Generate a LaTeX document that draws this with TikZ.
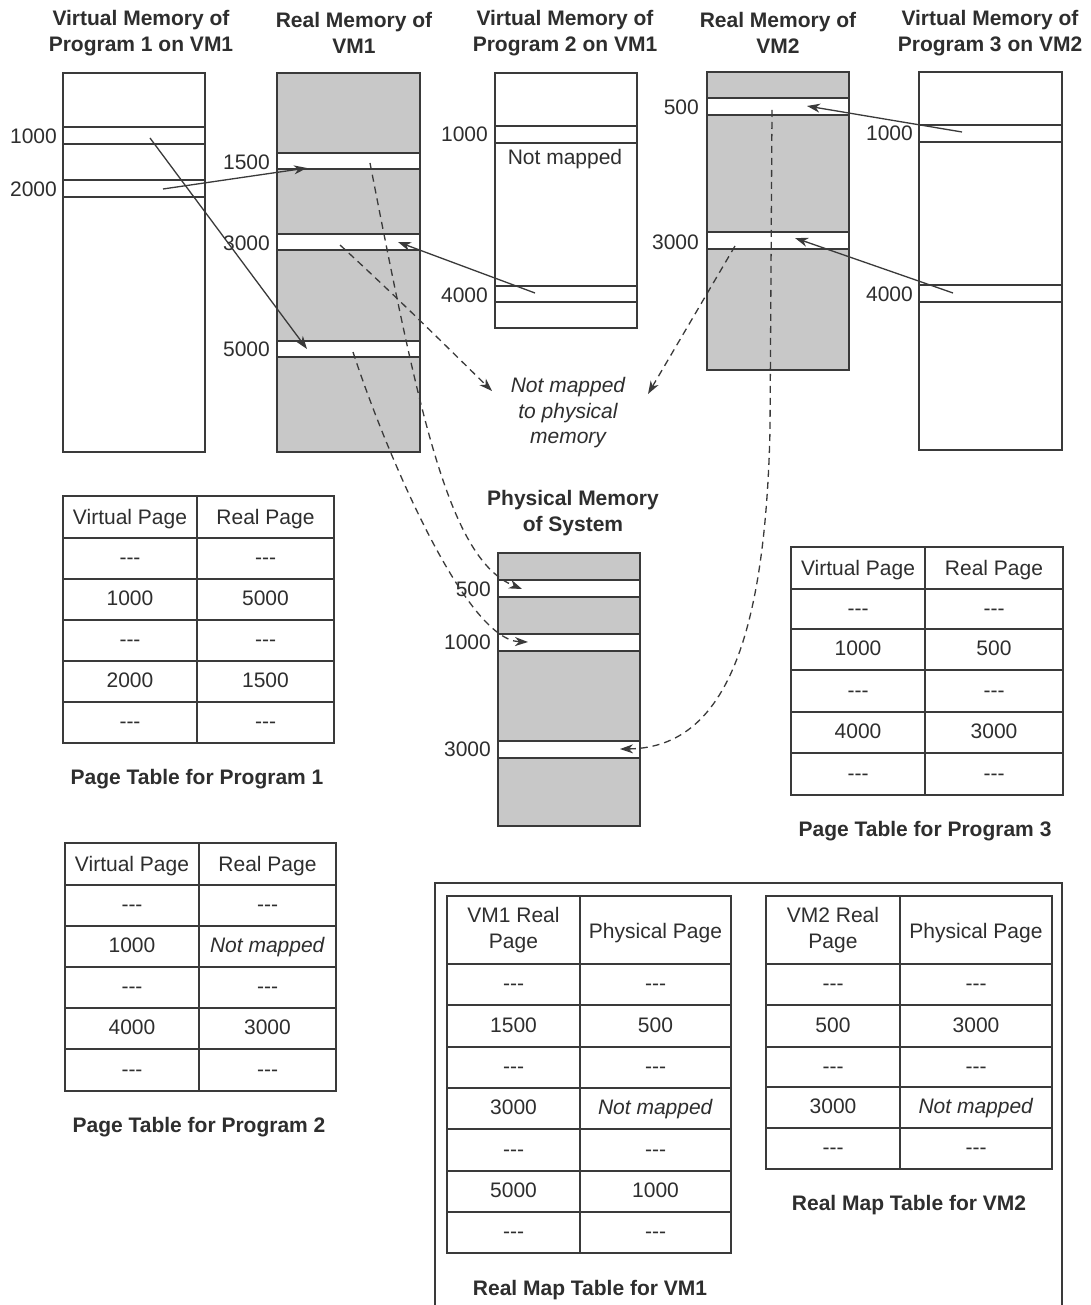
\documentclass[tikz,border=0pt]{standalone}
\usepackage{fontspec}
\setmainfont{Liberation Sans}
\usetikzlibrary{arrows.meta}
\definecolor{linec}{HTML}{3A3A3A}
\definecolor{txtc}{HTML}{2E2E2E}
\definecolor{memg}{HTML}{C8C8C8}
\newcommand\fsz{\fontsize{21}{25.5}\selectfont}
\newcommand\dsh{-\kern0pt-\kern0pt-}
\begin{document}
\begin{tikzpicture}[x=1pt,y=-1pt,
 box/.style={draw=linec,line width=1.6pt},
 gbox/.style={box,fill=memg},
 wslot/.style={box,fill=white},
 rule/.style={draw=linec,line width=1.6pt},
 lbl/.style={font=\fsz,text=txtc,inner sep=0pt,text height=15pt,text depth=0pt},
 num/.style={lbl,anchor=east},
 ttl/.style={font=\fsz\bfseries,text=txtc,align=center,inner sep=0pt,yshift=-2pt},
 itl/.style={font=\fsz\itshape,text=txtc,align=center,inner sep=0pt,yshift=-2pt},
 hdr/.style={font=\fsz,text=txtc,align=center,inner sep=0pt},
 arr/.style={draw=linec,line width=1.3pt,-{Stealth[length=13pt,width=9pt,inset=4pt]}},
 darr/.style={arr,dash pattern=on 7pt off 5pt},
]
\useasboundingbox (0,0) rectangle (1091,1305);
\fill[white] (0,0) rectangle (1091,1305);

% ---------- titles ----------
\node[ttl] (tP1) at (141,31) {Virtual Memory of\\Program 1 on VM1};
\node[ttl] (tR1) at (354,31) {Real Memory of\\VM1};
\node[ttl] (tP2) at (565,31) {Virtual Memory of\\Program 2 on VM1};
\node[ttl] (tR2) at (778,31) {Real Memory of\\VM2};
\node[ttl] (tP3) at (990,31) {Virtual Memory of\\Program 3 on VM2};
\node[ttl] (tPh) at (573,511) {Physical Memory\\of System};

% ---------- memory columns ----------
% Program 1
\draw[box] (63,73) rectangle (205,452);
\draw[rule] (63,127) -- (205,127) (63,144) -- (205,144)
            (63,180) -- (205,180) (63,197) -- (205,197);
\node[num] (l11) at (57,136) {1000};
\node[num] (l12) at (57,189) {2000};

% Real memory VM1
\draw[gbox] (277,73) rectangle (420,452);
\draw[wslot] (277,153) rectangle (420,169);
\draw[wslot] (277,234) rectangle (420,250);
\draw[wslot] (277,341) rectangle (420,357);
\node[num] (l21) at (270,162) {1500};
\node[num] (l22) at (270,243) {3000};
\node[num] (l23) at (270,349) {5000};

% Program 2
\draw[box] (495,73) rectangle (637,328);
\draw[rule] (495,126) -- (637,126) (495,143) -- (637,143)
            (495,286) -- (637,286) (495,302) -- (637,302);
\node[num] (l31) at (488,134) {1000};
\node[num] (l32) at (488,295) {4000};
\node[lbl] (nm2) at (565,157) {Not mapped};

% Real memory VM2
\draw[gbox] (707,72) rectangle (849,370);
\draw[wslot] (707,98) rectangle (849,115);
\draw[wslot] (707,232) rectangle (849,249);
\node[num] (l41) at (699,107) {500};
\node[num] (l42) at (699,242) {3000};

% Program 3
\draw[box] (919,72) rectangle (1062,450);
\draw[rule] (919,125) -- (1062,125) (919,142) -- (1062,142)
            (919,285) -- (1062,285) (919,302) -- (1062,302);
\node[num] (l51) at (913,133) {1000};
\node[num] (l52) at (913,294) {4000};

% Physical memory
\draw[gbox] (498,553) rectangle (640,826);
\draw[wslot] (498,580) rectangle (640,597);
\draw[wslot] (498,634) rectangle (640,651);
\draw[wslot] (498,741) rectangle (640,758);
\node[num] (l61) at (491,589) {500};
\node[num] (l62) at (491,642) {1000};
\node[num] (l63) at (491,749) {3000};

\node[itl] (nmp) at (568,411) {Not mapped\\to physical\\memory};

% ---------- solid mapping arrows ----------
\coordinate (a1s) at (150,138); \coordinate (a1e) at (307,349);
\coordinate (a2s) at (163,189); \coordinate (a2e) at (307,168);
\coordinate (a3s) at (535,293); \coordinate (a3e) at (398,242);
\coordinate (a4s) at (962,132); \coordinate (a4e) at (807,106);
\coordinate (a5s) at (953,293); \coordinate (a5e) at (795,238);
\draw[arr] (a1s) -- (a1e);
\draw[arr] (a2s) -- (a2e);
\draw[arr] (a3s) -- (a3e);
\draw[arr] (a4s) -- (a4e);
\draw[arr] (a5s) -- (a5e);

% ---------- dashed arrows ----------
\coordinate (d1s) at (370,163); \coordinate (d1e) at (522,589);
\coordinate (d2s) at (353,352); \coordinate (d2e) at (528,642);
\coordinate (d3s) at (340,245); \coordinate (d3e) at (492,391);
\coordinate (d4s) at (735,246); \coordinate (d4e) at (648,394);
\coordinate (d5s) at (772,110); \coordinate (d5m) at (770,430); \coordinate (d5e) at (620,749);
\draw[darr] (d1s) .. controls (420,420) and (450,560) .. (d1e);
\draw[darr] (d2s) .. controls (385,450) and (465,640) .. (d2e);
\draw[darr] (d3s) .. controls (400,300) and (450,350) .. (d3e);
\draw[darr] (d4s) -- (d4e);
\draw[darr] (d5s) -- (d5m) .. controls (765,650) and (720,748) .. (d5e);

% ---------- Page table for program 1 ----------
\draw[box] (63,496) rectangle (334,743);
\draw[rule] (197,496) -- (197,743);
\foreach \y in {538,579,620,661,702} \draw[rule] (63,\y) -- (334,\y);
\node[lbl] (p1h1) at (130,517) {Virtual Page};
\node[lbl] (p1h2) at (265.5,517) {Real Page};
\foreach \y/\a/\b [count=\i] in {558.5/\dsh/\dsh,599.5/1000/5000,640.5/\dsh/\dsh,681.5/2000/1500,722.5/\dsh/\dsh}{
  \node[lbl] (p1a\i) at (130,\y-1.5) {\a};
  \node[lbl] (p1b\i) at (265.5,\y-1.5) {\b};
}
\node[ttl] (p1c) at (197,777) {Page Table for Program 1};

% ---------- Page table for program 2 ----------
\draw[box] (65,843) rectangle (336,1091);
\draw[rule] (199,843) -- (199,1091);
\foreach \y in {885,926,967,1008,1049} \draw[rule] (65,\y) -- (336,\y);
\node[lbl] (p2h1) at (132,864) {Virtual Page};
\node[lbl] (p2h2) at (267.5,864) {Real Page};
\foreach \y/\a/\b [count=\i] in {905.5/\dsh/\dsh,946.5/1000/\textit{Not mapped},987.5/\dsh/\dsh,1028.5/4000/3000,1070/\dsh/\dsh}{
  \node[lbl] (p2a\i) at (132,\y-1.5) {\a};
  \node[lbl] (p2b\i) at (267.5,\y-1.5) {\b};
}
\node[ttl] (p2c) at (199,1125) {Page Table for Program 2};

% ---------- Page table for program 3 ----------
\draw[box] (791,547) rectangle (1063,795);
\draw[rule] (925,547) -- (925,795);
\foreach \y in {589,629,670,712,753} \draw[rule] (791,\y) -- (1063,\y);
\node[lbl] (p3h1) at (858,568) {Virtual Page};
\node[lbl] (p3h2) at (994,568) {Real Page};
\foreach \y/\a/\b [count=\i] in {609/\dsh/\dsh,649.5/1000/500,691/\dsh/\dsh,732.5/4000/3000,774/\dsh/\dsh}{
  \node[lbl] (p3a\i) at (858,\y-1.5) {\a};
  \node[lbl] (p3b\i) at (994,\y-1.5) {\b};
}
\node[ttl] (p3c) at (925,829) {Page Table for Program 3};

% ---------- Real map tables ----------
\draw[box] (435,1305) -- (435,883) -- (1062,883) -- (1062,1305);

\draw[box] (447,896) rectangle (731,1253);
\draw[rule] (580,896) -- (580,1253);
\foreach \y in {964,1005,1047,1088,1129,1171,1212} \draw[rule] (447,\y) -- (731,\y);
\node[hdr] (r1h1) at (513.5,930) {VM1 Real\\Page};
\node[lbl] (r1h2) at (655.5,931) {Physical Page};
\foreach \y/\a/\b [count=\i] in {984.5/\dsh/\dsh,1026/1500/500,1067.5/\dsh/\dsh,1108.5/3000/\textit{Not mapped},1150/\dsh/\dsh,1191.5/5000/1000,1232.5/\dsh/\dsh}{
  \node[lbl] (r1a\i) at (513.5,\y-1.5) {\a};
  \node[lbl] (r1b\i) at (655.5,\y-1.5) {\b};
}
\node[ttl] (r1c) at (590,1288) {Real Map Table for VM1};

\draw[box] (766,896) rectangle (1052,1169);
\draw[rule] (900,896) -- (900,1169);
\foreach \y in {964,1005,1047,1087,1128} \draw[rule] (766,\y) -- (1052,\y);
\node[hdr] (r2h1) at (833,930) {VM2 Real\\Page};
\node[lbl] (r2h2) at (976,931) {Physical Page};
\foreach \y/\a/\b [count=\i] in {984.5/\dsh/\dsh,1026/500/3000,1067/\dsh/\dsh,1107.5/3000/\textit{Not mapped},1148.5/\dsh/\dsh}{
  \node[lbl] (r2a\i) at (833,\y-1.5) {\a};
  \node[lbl] (r2b\i) at (976,\y-1.5) {\b};
}
\node[ttl] (r2c) at (909,1203) {Real Map Table for VM2};
\end{tikzpicture}
\end{document}
